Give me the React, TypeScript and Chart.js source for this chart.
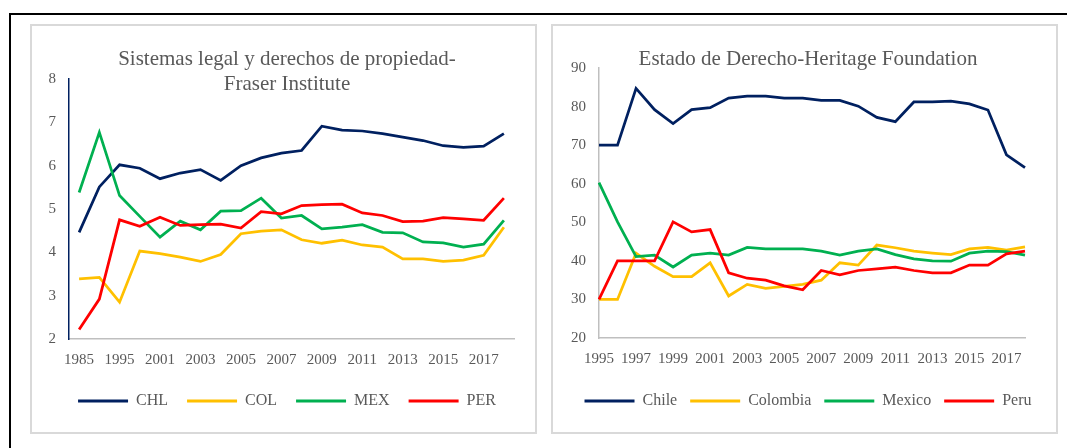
import React, { useEffect, useRef } from 'react';
import { Chart, registerables } from 'chart.js';

Chart.register(...registerables);

// ---------- Data ----------
const fraserYears = ['1985', '1990', '1995', '2000', '2001', '2002', '2003', '2004', '2005', '2006', '2007', '2008', '2009', '2010', '2011', '2012', '2013', '2014', '2015', '2016', '2017', '2018'];
const fraserCHL = [4.46, 5.51, 6.02, 5.94, 5.70, 5.83, 5.91, 5.66, 6.00, 6.18, 6.29, 6.35, 6.91, 6.82, 6.80, 6.74, 6.66, 6.58, 6.46, 6.42, 6.45, 6.74];
const fraserCOL = [3.39, 3.42, 2.85, 4.03, 3.97, 3.89, 3.79, 3.95, 4.43, 4.49, 4.52, 4.29, 4.21, 4.28, 4.17, 4.12, 3.85, 3.85, 3.79, 3.82, 3.93, 4.58];
const fraserMEX = [5.38, 6.77, 5.31, 4.83, 4.35, 4.72, 4.52, 4.95, 4.96, 5.25, 4.79, 4.85, 4.54, 4.58, 4.64, 4.46, 4.45, 4.24, 4.22, 4.12, 4.19, 4.74];
const fraserPER = [2.22, 2.92, 4.75, 4.60, 4.81, 4.62, 4.64, 4.65, 4.56, 4.94, 4.89, 5.08, 5.10, 5.11, 4.91, 4.85, 4.71, 4.72, 4.80, 4.77, 4.74, 5.25];

const heritageYears = ['1995', '1996', '1997', '1998', '1999', '2000', '2001', '2002', '2003', '2004', '2005', '2006', '2007', '2008', '2009', '2010', '2011', '2012', '2013', '2014', '2015', '2016', '2017', '2018'];
const heritageChile = [70.0, 70.0, 84.7, 79.2, 75.6, 79.2, 79.7, 82.2, 82.7, 82.7, 82.2, 82.2, 81.6, 81.6, 80.1, 77.2, 76.1, 81.2, 81.2, 81.4, 80.7, 79.1, 67.5, 64.2];
const heritageColombia = [30.0, 30.0, 42.0, 38.6, 35.9, 35.9, 39.5, 30.9, 33.9, 32.9, 33.4, 33.9, 35.0, 39.5, 38.9, 44.1, 43.4, 42.5, 42.0, 41.6, 43.1, 43.5, 42.8, 43.6];
const heritageMexico = [60.3, 50.1, 41.1, 41.5, 38.4, 41.5, 42.0, 41.5, 43.5, 43.1, 43.1, 43.1, 42.5, 41.5, 42.5, 43.1, 41.6, 40.5, 40.0, 39.9, 42.0, 42.5, 42.4, 41.5];
const heritagePeru = [30.0, 40.0, 40.0, 40.0, 50.1, 47.5, 48.1, 36.9, 35.5, 35.0, 33.5, 32.5, 37.5, 36.4, 37.5, 37.9, 38.4, 37.5, 36.9, 36.9, 38.9, 38.9, 41.8, 42.5];

const leftSeriesNames = ['CHL', 'COL', 'MEX', 'PER'];
const rightSeriesNames = ['Chile', 'Colombia', 'Mexico', 'Peru'];
const leftTitle = ['Sistemas legal y derechos de propiedad-', 'Fraser Institute'];
const rightTitle = 'Estado de Derecho-Heritage Foundation';

// ---------- Styles ----------
const COLORS = ['#002060', '#FFC000', '#00B050', '#FF0000'];
const SERIF = "'Liberation Serif', 'Times New Roman', serif";
const TEXT = '#595959';
const AXIS_GRAY = '#BFBFBF';

function makeDatasets(names: string[], series: number[][]) {
  return names.map((name, i) => ({
    label: name,
    data: series[i],
    borderColor: COLORS[i],
    backgroundColor: COLORS[i],
    borderWidth: 2.75,
    pointRadius: 0,
    pointHoverRadius: 0,
    tension: 0,
    fill: false,
    order: names.length - i,
  }));
}

function legendLabels(chart: any) {
  const items = (Chart.defaults.plugins.legend.labels as any).generateLabels(chart);
  return items
    .map((l: any) => ({ ...l, lineWidth: 0, fillStyle: l.strokeStyle }))
    .sort((a: any, b: any) => a.datasetIndex - b.datasetIndex);
}

function buildConfig(opts: {
  labels: string[];
  names: string[];
  series: number[][];
  title: string | string[];
  titlePadBottom: number;
  yMin: number;
  yMax: number;
  yStep: number;
  yBorder: string;
  yWidth: number;
  xOffset: boolean;
  xHeight: number;
  xPadRight: number;
  legendPad: number;
}): any {
  const { labels } = opts;
  return {
    type: 'line',
    data: { labels, datasets: makeDatasets(opts.names, opts.series) },
    options: {
      responsive: false,
      animation: false,
      events: [],
      layout: { padding: { left: 0, right: 0, top: 0, bottom: 13 } },
      plugins: {
        tooltip: { enabled: false },
        title: {
          display: true,
          text: opts.title,
          color: TEXT,
          font: { family: SERIF, size: 21, weight: 'normal', lineHeight: 1.2 },
          padding: { top: 22, bottom: opts.titlePadBottom },
        },
        legend: {
          display: true,
          position: 'bottom',
          align: 'center',
          labels: {
            boxWidth: 50,
            boxHeight: 3,
            padding: opts.legendPad,
            color: TEXT,
            font: { family: SERIF, size: 16 },
            generateLabels: legendLabels,
          },
        },
      },
      scales: {
        x: {
          type: 'category',
          offset: opts.xOffset,
          grid: { display: false, drawTicks: false },
          border: { display: true, color: AXIS_GRAY, width: 1.5 },
          ticks: {
            autoSkip: false,
            maxRotation: 0,
            minRotation: 0,
            padding: 12,
            color: TEXT,
            font: { family: SERIF, size: 15 },
            callback: (_v: any, i: number) => (i % 2 === 0 ? labels[i] : ''),
          },
          afterFit: (s: any) => {
            s.height = opts.xHeight;
            s.paddingRight = opts.xPadRight;
          },
        },
        y: {
          type: 'linear',
          min: opts.yMin,
          max: opts.yMax,
          grid: { display: false, drawTicks: false },
          border: { display: true, color: opts.yBorder, width: 1.5 },
          ticks: {
            stepSize: opts.yStep,
            padding: 13,
            color: TEXT,
            font: { family: SERIF, size: 15 },
          },
          afterFit: (s: any) => {
            s.width = opts.yWidth;
          },
        },
      },
    },
  };
}

export default function App() {
  const leftRef = useRef<HTMLCanvasElement | null>(null);
  const rightRef = useRef<HTMLCanvasElement | null>(null);

  useEffect(() => {
    const charts: Chart[] = [];
    if (leftRef.current) {
      charts.push(
        new Chart(
          leftRef.current,
          buildConfig({
            labels: fraserYears,
            names: leftSeriesNames,
            series: [fraserCHL, fraserCOL, fraserMEX, fraserPER],
            title: leftTitle,
            titlePadBottom: -18.4,
            yMin: 2,
            yMax: 8,
            yStep: 1,
            yBorder: '#002060',
            yWidth: 29,
            xOffset: true,
            xHeight: 35,
            xPadRight: 20,
            legendPad: 19,
          })
        )
      );
    }
    if (rightRef.current) {
      charts.push(
        new Chart(
          rightRef.current,
          buildConfig({
            labels: heritageYears,
            names: rightSeriesNames,
            series: [heritageChile, heritageColombia, heritageMexico, heritagePeru],
            title: rightTitle,
            titlePadBottom: -4.2,
            yMin: 20,
            yMax: 90,
            yStep: 10,
            yBorder: AXIS_GRAY,
            yWidth: 41,
            xOffset: false,
            xHeight: 42,
            xPadRight: 33,
            legendPad: 13,
          })
        )
      );
    }
    return () => {
      charts.forEach((c) => c.destroy());
    };
  }, []);

  const panel = (left: number): React.CSSProperties => ({
    position: 'absolute',
    left,
    top: 24,
    width: 507,
    height: 410,
    boxSizing: 'border-box',
    border: '2px solid #D9D9D9',
    background: '#FFFFFF',
  });

  return (
    <div
      style={{
        position: 'absolute',
        left: 0,
        top: 0,
        width: 1067,
        height: 448,
        overflow: 'hidden',
        background: '#FFFFFF',
      }}
    >
      <div
        style={{
          position: 'absolute',
          left: 9,
          top: 13,
          width: 1080,
          height: 460,
          borderTop: '2px solid #000',
          borderLeft: '2px solid #000',
        }}
      />
      <div style={panel(30)} />
      <div style={panel(551)} />
      <canvas
        ref={leftRef}
        width={494}
        height={407}
        style={{ position: 'absolute', left: 40, top: 25, width: 494, height: 407 }}
      />
      <canvas
        ref={rightRef}
        width={500}
        height={407}
        style={{ position: 'absolute', left: 558, top: 25, width: 500, height: 407 }}
      />
    </div>
  );
}
